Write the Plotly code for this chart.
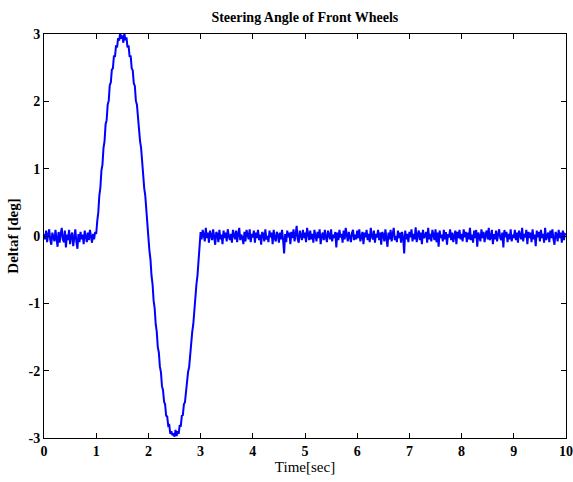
import plotly.graph_objects as go

# Sampling step of the recorded signal (seconds)
DT = 0.02

# Steering angle readings (hundredths of a degree)
pre_values = [3, -5, 8, -9, 2, 10, -6, -13, 5, 0, -8, 9, -3, -16, 6, -10, 3, 12, -5, -9,
              8, -17, 2, -6, 9, -12, 0, 5, -15, -3, 10, -8, -19, 3, -9, 6, -5, 2, -12, 8,
              -2, -9, 5, -6, 9, -3, -10, 3, -5, 6]
rise_values = [3, 22, 35, 60, 72, 97, 106, 131, 141, 166, 172, 195, 201, 224, 228, 247, 249,
               268, 266, 283, 280, 294, 290, 302, 293, 298, 287, 301, 291, 295, 280, 283, 266,
               268, 249, 246, 227, 223, 201, 195, 172, 165, 141, 131, 106, 97, 71, 60, 34, 22]
fall_values = [-2, -22, -35, -59, -72, -96, -107, -131, -142, -165, -173, -194, -202, -223,
               -229, -246, -250, -267, -268, -282, -281, -294, -290, -296, -293, -298, -288,
               -297, -290, -294, -281, -283, -267, -266, -250, -247, -228, -222, -202, -195,
               -172, -164, -142, -131, -107, -96, -72, -59, -36, -21]
post_values = [
    6, -5, 9, 2, -8, 12, -3, 5, -10, 8, 0, -6, 10, -2, -13, 6, 3, -9, 9, -5, 2, -12, 8, -3, 5,
    -8, 10, 0, -6, 3, -10, 9, -2, -5, 8, -9, 3, 12, -6, 2, -3, -12, 6, -8, 9, 0, -5, 10, -9, 3,
    -2, 8, -10, 5, -3, 9, -6, 2, -13, 6, 3, -8, 10, -5, 0, -9, 8, -2, 5, -12, 9, -3, -8, 6, 2,
    -10, 5, -5, 9, -6, -26, 3, -9, 8, -2, 5, -12, 6, -3, 10, -8, 2, 15, -5, -10, 8, 0, -6, 9, -3,
    5, -9, 12, -2, -6, 8, -5, 3, -10, 9, 2, -8, 6, -3, 10, -12, 0, 5, -6, 9, -2, -9, 8, 3, -5,
    10, -8, 2, -3, 6, -17, 5, -6, 9, -2, 3, -10, 8, -5, 12, -3, -8, 6, 0, -9, 5, 9, -6, 2, -5,
    8, -3, 10, -8, 2, 6, -12, 5, -2, 9, -6, 3, -9, 12, 0, -5, 8, -10, 3, -2, 9, -6, 5, -13, 6,
    2, -8, 10, -3, -16, 5, -5, 9, -8, 3, 12, -6, 0, -9, 8, -3, 5, -10, 6, -2, -26, 8, -5, 3, -9,
    6, -2, 10, -8, 3, -5, 13, -9, 2, 8, -6, 5, -12, 9, -3, 0, 6, -10, 12, -5, 3, -8, 9, -2, -6,
    10, -9, 5, -16, 8, -3, 2, -8, 9, -5, 6, -13, 3, -2, 10, -6, 5, -9, 0, 8, -12, 6, -3, 9, -5,
    3, -8, 10, -2, 6, -9, 5, -5, 12, -6, 2, -10, 8, -3, 9, -16, 5, 0, -8, 10, -3, 6, -9, 2, 8,
    -5, 12, -6, -2, 9, -12, 3, -5, 8, -8, 2, 10, -3, -6, 5, -17, 9, -2, 6, -9, 3, -5, 10, -8, 2,
    -3, 9, -6, 5, -10, 8, 0, -5, 12, -8, 3, -2, 9, -12, 6, -3, 5, -9, 10, -5, 2, -15, 8, -2, 6,
    -8, 9, -3, 3, -10, 12, -6, 0, 5, -9, 8, -3, 10, -5, -13, 6, 2, -8, 9, -3, 5, -10, 8, -6, 3,
    2]

x_ticks = [0, 1, 2, 3, 4, 5, 6, 7, 8, 9, 10]
y_ticks = [-3, -2, -1, 0, 1, 2, 3]

angle = [v / 100 for v in pre_values + rise_values + fall_values + post_values]
time = [round(i * DT, 2) for i in range(len(angle))]

FONT = "Liberation Serif"

fig = go.Figure()
fig.add_trace(go.Scatter(x=time, y=angle, mode="lines",
                         line=dict(color="rgb(0,0,255)", width=2),
                         showlegend=False, hoverinfo="skip"))

axis_common = dict(showline=True, linecolor="black", linewidth=1, mirror="ticks",
                   ticks="inside", ticklen=5, tickcolor="black", tickwidth=1,
                   showgrid=False, zeroline=False, automargin=False)

fig.update_layout(
    width=573, height=482,
    margin=dict(l=44, r=7, t=34, b=44),
    paper_bgcolor="white", plot_bgcolor="white",
    title=dict(text="<b>Steering Angle of Front Wheels</b>", x=0.532, xanchor="center",
               y=0.965, yanchor="middle",
               font=dict(family=FONT, size=14, color="black")),
    xaxis=dict(range=[0, 10], tickvals=x_ticks,
               ticktext=[f"<b>{v}</b>" for v in x_ticks],
               tickfont=dict(family=FONT, size=14, color="black"),
               title=dict(text="Time[sec]", standoff=2,
                          font=dict(family=FONT, size=15, color="black")),
               **axis_common),
    yaxis=dict(range=[-3, 3], tickvals=y_ticks,
               ticktext=[f"<b>{v}</b>" for v in y_ticks],
               tickfont=dict(family=FONT, size=14, color="black"),
               title=dict(text="<b>Deltaf [deg]</b>", standoff=6,
                          font=dict(family=FONT, size=15, color="black")),
               **axis_common),
)

fig.write_html("out.html")
